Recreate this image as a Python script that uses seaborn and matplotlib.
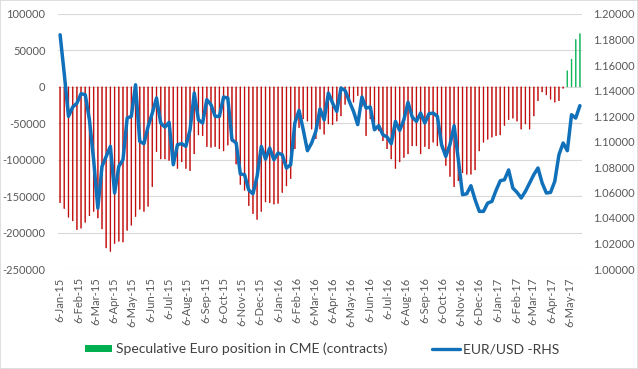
import numpy as np
import pandas as pd
import matplotlib
matplotlib.use("Agg")
import matplotlib.pyplot as plt
import matplotlib.dates as mdates
from matplotlib.patches import Patch, Rectangle
from matplotlib.lines import Line2D
import seaborn as sns

# --- Data ---
# weekly speculative net EUR position at CME, thousands of contracts
positions = [
    -159, -167, -179, -184, -196, -194, -186, -177, -171, -180, -195, -221,
    -226, -215, -212, -213, -197, -190, -178, -168, -171, -164,
    -137, -89, -99, -99, -101, -99, -112, -103, -112, -115, -92, -66,
    -67, -82, -83, -82, -85, -88, -80, -75, -106, -134,
    -142, -163, -174, -182, -171, -158, -159, -161, -160, -145, -136, -126,
    -85, -56, -44, -47, -58, -71, -58, -65, -51,
    -52, -47, -40, -24, -17, -21, -12, -27, -67, -44, -49, -60,
    -74, -85, -99, -112, -103, -97, -92, -81, -81,
    -92, -82, -85, -76, -81, -85, -108, -123, -137, -129, -118, -120,
    -120, -114, -88, -76, -72, -69, -67, -66, -53, -45,
    -43, -47, -58, -51, -58, -40, -19, -7, -11, -17, -21, -19,
    -2, 22, 38, 65, 73,
]

# weekly EUR/USD (right hand scale)
eurusd = [
    1.1837, 1.1529, 1.1197, 1.1270, 1.1300, 1.1375, 1.1367, 1.1170, 1.0857,
    1.0478, 1.0805, 1.0883, 1.0962, 1.0596, 1.0805, 1.0857, 1.1184, 1.1197,
    1.1445, 1.1001, 1.0983, 1.1119,
    1.1223, 1.1341, 1.1145, 1.1113, 1.1150, 1.0818, 1.0975, 1.0983, 1.0962,
    1.1092, 1.1380, 1.1170, 1.1145, 1.1328, 1.1288, 1.1197, 1.1197, 1.1349,
    1.1341, 1.1014, 1.0988, 1.0745,
    1.0740, 1.0620, 1.0590, 1.0727, 1.0962, 1.0862, 1.0949, 1.0857, 1.0910,
    1.0896, 1.0792, 1.0818, 1.1145, 1.1244, 1.1092, 1.0928, 1.0988, 1.1079,
    1.1255, 1.1170, 1.1380,
    1.1302, 1.1236, 1.1419, 1.1400, 1.1315, 1.1236, 1.1132, 1.1349, 1.1262,
    1.1270, 1.1092, 1.1124, 1.1053, 1.1035, 1.0983, 1.1158, 1.1087, 1.1170,
    1.1307, 1.1192, 1.1158,
    1.1223, 1.1145, 1.1218, 1.1223, 1.1197, 1.0975, 1.0883, 1.0975, 1.1124,
    1.0857, 1.0583, 1.0590, 1.0653, 1.0543, 1.0452, 1.0452, 1.0517, 1.0530,
    1.0617, 1.0692, 1.0700, 1.0777,
    1.0635, 1.0601, 1.0557, 1.0609, 1.0674, 1.0740, 1.0792, 1.0674, 1.0596,
    1.0601, 1.0687, 1.0896, 1.0988, 1.0928, 1.1210, 1.1184, 1.1281,
]

tick_labels = [
    "6-Jan-15", "6-Feb-15", "6-Mar-15", "6-Apr-15", "6-May-15", "6-Jun-15",
    "6-Jul-15", "6-Aug-15", "6-Sep-15", "6-Oct-15", "6-Nov-15", "6-Dec-15",
    "6-Jan-16", "6-Feb-16", "6-Mar-16", "6-Apr-16", "6-May-16", "6-Jun-16",
    "6-Jul-16", "6-Aug-16", "6-Sep-16", "6-Oct-16", "6-Nov-16", "6-Dec-16",
    "6-Jan-17", "6-Feb-17", "6-Mar-17", "6-Apr-17", "6-May-17",
]

bar_label = "Speculative Euro position in CME (contracts)"
line_label = "EUR/USD -RHS"

# --- Frame ---
weeks = pd.date_range("2015-01-06", periods=len(positions), freq="7D")
month_ticks = pd.date_range("2015-01-06", periods=len(tick_labels),
                            freq=pd.DateOffset(months=1))

df = pd.DataFrame({
    "x": mdates.date2num(weeks),
    "pos": np.array(positions) * 1000,
    "fx": eurusd,
})
df["side"] = np.where(df["pos"] >= 0, "long", "short")

GREEN = "#00B050"
RED = "#C00000"
BLUE = "#1170BA"
TXT = "#595959"

sns.set_style("white")
plt.rcParams["font.family"] = ["Lato", "DejaVu Sans"]

fig = plt.figure(figsize=(6.38, 3.69), dpi=100)
ax = fig.add_axes([58 / 638, 1 - 269 / 369, (582 - 58) / 638, (269 - 14) / 369])

# --- Bars (left axis) ---
sns.barplot(data=df, x="x", y="pos", hue="side",
            palette={"long": GREEN, "short": RED},
            native_scale=True, width=0.2, dodge=False, saturation=1,
            errorbar=None, legend=False, ax=ax)
# thin bars: stroke them in their own colour so they read as solid lines
for p in ax.patches:
    p.set_snap(False)
    p.set_edgecolor(p.get_facecolor())
    p.set_linewidth(0.35)

# --- Line (right axis) ---
ax2 = ax.twinx()
sns.lineplot(data=df, x="x", y="fx", color=BLUE, linewidth=2.5, ax=ax2)

ax.set_xlim(df["x"].min() - 3.5, df["x"].max() + 3.5)
ax.set_ylim(-250000, 100000)
ax.set_yticks(range(-250000, 100001, 50000))
ax.set_yticklabels([str(v) for v in range(-250000, 100001, 50000)])
ax.yaxis.grid(True, color="#D9D9D9", linewidth=0.8)
ax.set_axisbelow(True)

ax2.set_ylim(1.0, 1.2)
rticks = np.linspace(1.0, 1.2, 11)
ax2.set_yticks(rticks)
ax2.set_yticklabels([f"{v:.5f}" for v in rticks])

ax.set_xticks(mdates.date2num(month_ticks))
ax.set_xticklabels(tick_labels, rotation=90)

for a in (ax, ax2):
    a.set_xlabel("")
    a.set_ylabel("")
    for s in a.spines.values():
        s.set_visible(False)
ax.tick_params(axis="y", length=0, pad=9, labelsize=8, labelcolor=TXT)
ax.tick_params(axis="x", length=0, pad=6, labelsize=8, labelcolor=TXT)
ax2.tick_params(axis="y", length=0, pad=8, labelsize=8, labelcolor=TXT)

# --- Legend ---
handles = [
    Patch(facecolor=GREEN, edgecolor="none", label=bar_label),
    Line2D([], [], color=BLUE, linewidth=2.4, label=line_label),
]
fig.legend(handles=handles, loc="center", bbox_to_anchor=(322 / 638, 1 - 349 / 369),
           ncol=2, frameon=False, fontsize=10, handlelength=2.0, handleheight=0.45,
           handletextpad=0.25, columnspacing=3.2, labelcolor="#404040")

fig.patches.append(Rectangle((0, 0), 1, 1, transform=fig.transFigure,
                             fill=False, edgecolor="#D9D9D9", linewidth=1.2))

fig.savefig("out.png", dpi=100)
